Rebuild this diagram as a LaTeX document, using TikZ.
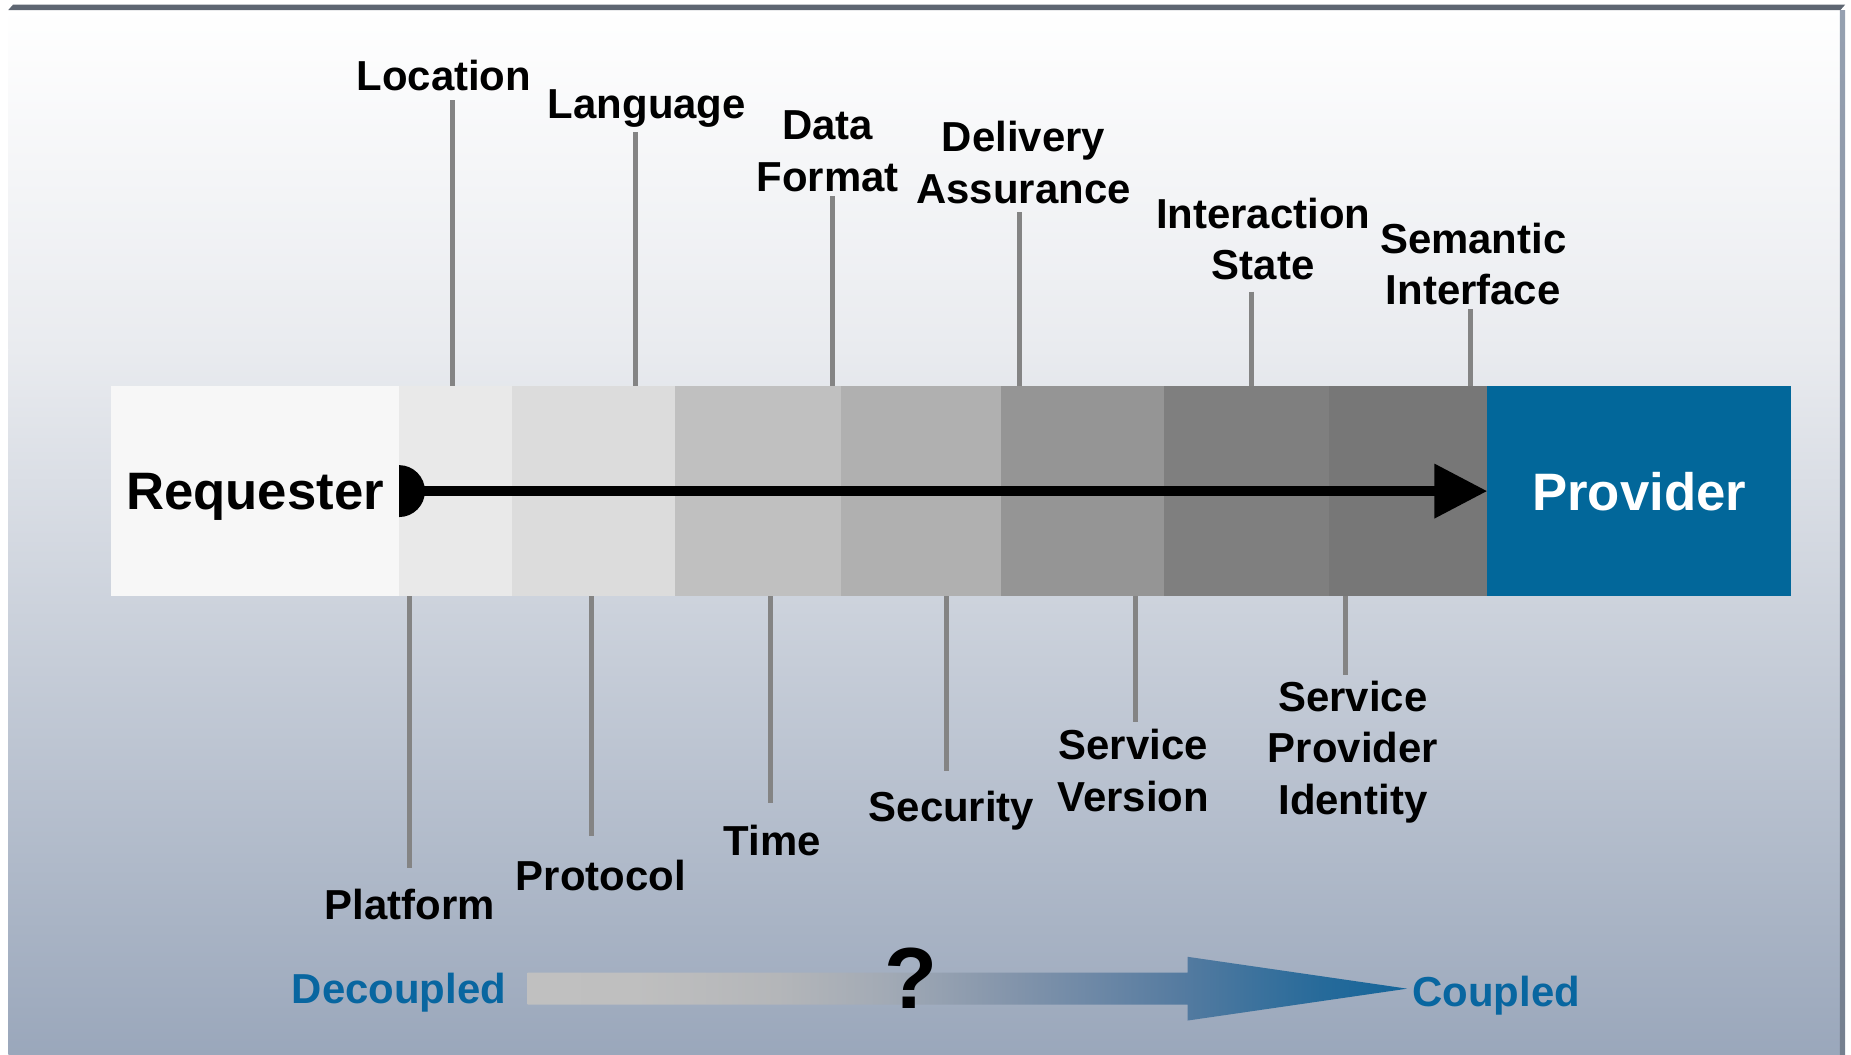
\documentclass[tikz,border=0pt]{standalone}
\usepackage{fontspec}
\setmainfont{Liberation Sans}
\usetikzlibrary{positioning,arrows.meta}
\definecolor{bgtop}{HTML}{FFFFFF}
\definecolor{bgmid}{HTML}{E9EBEF}
\definecolor{bgbot}{HTML}{9AA7BB}
\definecolor{framedark}{HTML}{5E6672}
\definecolor{frameside}{HTML}{8A96A8}
\definecolor{reqfill}{HTML}{F7F7F7}
\definecolor{provblue}{HTML}{02679A}
\definecolor{leadergray}{HTML}{848484}
\definecolor{couplblue}{HTML}{0866A0}
\definecolor{seg1}{HTML}{E9E9E9}
\definecolor{seg2}{HTML}{DCDCDC}
\definecolor{seg3}{HTML}{C0C0C0}
\definecolor{seg4}{HTML}{B0B0B0}
\definecolor{seg5}{HTML}{959595}
\definecolor{seg6}{HTML}{7F7F7F}
\definecolor{seg7}{HTML}{777777}
\definecolor{sc0}{HTML}{C0C0C0}
\definecolor{sc1}{HTML}{BFBFBF}
\definecolor{sc2}{HTML}{B4B6B9}
\definecolor{sc3}{HTML}{A2AAB5}
\definecolor{sc4}{HTML}{8495AB}
\definecolor{sc5}{HTML}{6D88A6}
\definecolor{sc6}{HTML}{557BA0}
\definecolor{sc7}{HTML}{266A9A}
\definecolor{sc8}{HTML}{14659A}
\pgfdeclarehorizontalshading{scaleshade}{100bp}{color(0bp)=(sc0); color(25bp)=(sc0);
  color(31bp)=(sc1); color(39.2bp)=(sc2); color(45.4bp)=(sc3); color(52.3bp)=(sc4);
  color(57.2bp)=(sc5); color(62.1bp)=(sc6); color(70.2bp)=(sc7); color(75bp)=(sc8);
  color(100bp)=(sc8)}
\tikzset{
seg/.style={rectangle,inner sep=0pt,outer sep=0pt,minimum height=3.56cm},
endbox/.style={seg,font=\fontsize{25.4}{30}\selectfont\bfseries,text depth=0pt},
lbl/.style={font=\fontsize{20.2}{24.8}\selectfont\bfseries,align=center,inner sep=0pt,anchor=north},
leader/.style={draw=leadergray,line width=0.085cm},
scaletext/.style={font=\fontsize{20.2}{24.8}\selectfont\bfseries,text=couplblue,inner sep=0pt,anchor=base}
}

\begin{document}
\begin{tikzpicture}
\useasboundingbox (0,0) rectangle (31.36,-17.86);
% backdrop and frame
\shade[top color=bgtop,bottom color=bgmid] (0.14,-0.12) rectangle (31.2,-5.92);
\shade[top color=bgmid,bottom color=bgbot] (0.14,-5.92) rectangle (31.2,-17.86);
\fill[framedark] (0.14,-0.17) -- (0.22,-0.08) -- (31.26,-0.08) -- (31.18,-0.17) -- cycle;
\shade[top color=frameside!90!white,bottom color=frameside!85!black] (31.17,-0.17) rectangle (31.26,-17.86);

% the coupling bar
\node[endbox,fill=reqfill,minimum width=4.88cm,anchor=west] (req) at (1.88,-8.32) {Requester};
\node[seg,fill=seg1,minimum width=1.92cm] (s1) [right=0pt of req] {};
\node[seg,fill=seg2,minimum width=2.76cm] (s2) [right=0pt of s1]  {};
\node[seg,fill=seg3,minimum width=2.80cm] (s3) [right=0pt of s2]  {};
\node[seg,fill=seg4,minimum width=2.72cm] (s4) [right=0pt of s3]  {};
\node[seg,fill=seg5,minimum width=2.76cm] (s5) [right=0pt of s4]  {};
\node[seg,fill=seg6,minimum width=2.80cm] (s6) [right=0pt of s5]  {};
\node[seg,fill=seg7,minimum width=2.68cm] (s7) [right=0pt of s6]  {};
\node[endbox,fill=provblue,text=white,minimum width=5.14cm] (prov) [right=0pt of s7] {Provider};

\draw[line width=0.18cm,-{Triangle[length=0.9cm,width=0.88cm]}] (req.east) -- (prov.west);
\fill (req.east) ++(0,0.44) arc[start angle=90,end angle=-90,radius=0.44] -- cycle;

% labels above
\node[lbl] (loc)  at (7.52,-1.01)  {Location};
\node[lbl] (lang) at (10.96,-1.51) {Language};
\node[lbl] (fmt)  at (14.02,-1.87) {Data\\Format};
\node[lbl] (dlv)  at (17.34,-2.05) {Delivery\\Assurance};
\node[lbl] (ist)  at (21.40,-3.35) {Interaction\\State};
\node[lbl] (sem)  at (24.96,-3.77) {Semantic\\Interface};

\coordinate (locT)  at (7.66,-1.70);
\coordinate (langT) at (10.76,-2.24);
\coordinate (fmtT)  at (14.10,-3.32);
\coordinate (dlvT)  at (17.28,-3.60);
\coordinate (istT)  at (21.20,-4.94);
\coordinate (semT)  at (24.92,-5.24);
\draw[leader] (locT)  -- (locT |- s1.north);
\draw[leader] (langT) -- (langT |- s2.north);
\draw[leader] (fmtT)  -- (fmtT |- s3.north);
\draw[leader] (dlvT)  -- (dlvT |- s5.north);
\draw[leader] (istT)  -- (istT |- s6.north);
\draw[leader] (semT)  -- (semT |- s7.north);

% labels below
\node[lbl] (plat) at (6.94,-15.05)  {Platform};
\node[lbl] (prot) at (10.18,-14.57) {Protocol};
\node[lbl] (time) at (13.08,-13.97) {Time};
\node[lbl] (sec)  at (16.12,-13.39) {Security};
\node[lbl] (sver) at (19.20,-12.35) {Service\\Version};
\node[lbl] (spid) at (22.92,-11.53) {Service\\Provider\\Identity};

\coordinate (platB) at (6.94,-14.70);
\coordinate (protB) at (10.02,-14.16);
\coordinate (timeB) at (13.06,-13.60);
\coordinate (secB)  at (16.04,-13.06);
\coordinate (sverB) at (19.24,-12.24);
\coordinate (spidB) at (22.80,-11.44);
\draw[leader] (platB |- s1.south) -- (platB);
\draw[leader] (protB |- s2.south) -- (protB);
\draw[leader] (timeB |- s3.south) -- (timeB);
\draw[leader] (secB |- s4.south)  -- (secB);
\draw[leader] (sverB |- s5.south) -- (sverB);
\draw[leader] (spidB |- s7.south) -- (spidB);

% decoupled -> coupled scale
\shade[shading=scaleshade]
  (8.94,-16.48) -- (20.12,-16.48) -- (20.12,-16.21) -- (23.84,-16.75)
  -- (20.12,-17.29) -- (20.12,-17.02) -- (8.94,-17.02) -- cycle;
\node[scaletext] (dec) at (6.76,-17.00) {Decoupled};
\node[scaletext] (cpl) at (25.35,-17.06) {Coupled};
\node[font=\fontsize{41.8}{48}\selectfont\bfseries,inner sep=0pt,anchor=base] (qm) at (15.44,-17.08) {?};
\end{tikzpicture}
\end{document}
